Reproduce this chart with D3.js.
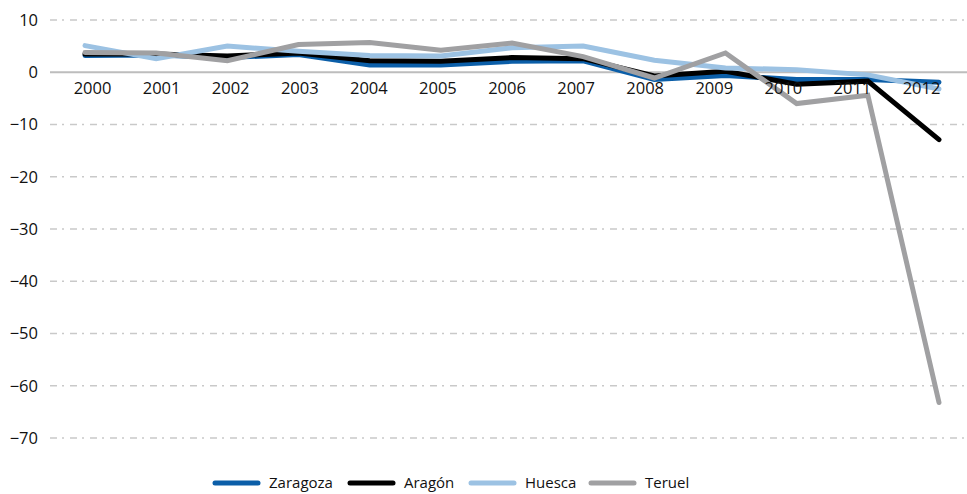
<!DOCTYPE html>
<html>
<head>
<meta charset="utf-8">
<script src="https://cdn.jsdelivr.net/npm/d3@7"></script>
<style>
  body { margin: 0; background: #fff; }
  text { font-family: "Open Sans", sans-serif; fill: #111; }
</style>
</head>
<body>
<svg id="chart" width="967" height="494"></svg>
<script>
var years = ['2000', '2001', '2002', '2003', '2004', '2005', '2006',
             '2007', '2008', '2009', '2010', '2011', '2012'];
var yTicks = [10, 0, -10, -20, -30, -40, -50, -60, -70];

var zaragoza = [3.2, 3.3, 2.8, 3.4, 1.4, 1.4, 2.1, 2.2, -1.4, -0.6, -1.4, -1.4, -1.9];
var aragon   = [3.5, 3.5, 3.1, 3.7, 2.2, 2.1, 2.8, 2.6, -0.7, 0.2, -2.3, -1.7, -12.9];
var huesca   = [5.1, 2.6, 5.0, 4.0, 3.2, 3.1, 4.7, 5.0, 2.3, 0.8, 0.5, -0.5, -3.2];
var teruel   = [3.8, 3.7, 2.2, 5.3, 5.7, 4.2, 5.6, 3.0, -1.1, 3.7, -6.0, -4.4, -63.2];

var series = [
  { name: 'Zaragoza', values: zaragoza, color: '#0b5ea8' },
  { name: 'Aragón', values: aragon, color: '#000000' },
  { name: 'Huesca', values: huesca, color: '#9cc2e3' },
  { name: 'Teruel', values: teruel, color: '#a0a0a2' }
];

var svg = d3.select('#chart');

var yScale = d3.scaleLinear()
    .domain([-70, 10])
    .range([438, 20]);

// lines and category labels do not sit on the same points
var xLine = d3.scalePoint()
    .domain(years)
    .range([85, 939]);

var xLabel = d3.scalePoint()
    .domain(years)
    .range([92, 921]);

// grid
svg.append('g')
  .selectAll('line')
  .data(yTicks)
  .enter()
  .append('line')
    .attr('x1', 50)
    .attr('x2', 967)
    .attr('y1', d => yScale(d))
    .attr('y2', d => yScale(d))
    .attr('stroke', d => d === 0 ? '#bdbdbd' : '#c9c9c9')
    .attr('stroke-width', d => d === 0 ? 2 : 1.5)
    .attr('stroke-dasharray', d => d === 0 ? null : '7,5,2,6');

// y axis labels
var yAxis = d3.axisLeft(yScale)
    .tickValues(yTicks)
    .tickSize(0)
    .tickPadding(0);

svg.append('g')
    .attr('transform', 'translate(38,0)')
    .call(yAxis)
    .call(g => g.select('.domain').remove())
    .selectAll('text')
    .style('font-size', '16.5px')
    .style('font-family', '"Open Sans", sans-serif')
    .attr('fill', '#111');

// lines
var line = d3.line()
    .x((d, i) => xLine(years[i]))
    .y(d => yScale(d));

svg.append('g')
  .selectAll('path')
  .data(series)
  .enter()
  .append('path')
    .attr('d', d => line(d.values))
    .attr('fill', 'none')
    .attr('stroke', d => d.color)
    .attr('stroke-width', 5)
    .attr('stroke-linejoin', 'miter')
    .attr('stroke-linecap', 'round');

// category labels, drawn over the lines
var xAxis = d3.axisBottom(xLabel)
    .tickSize(0)
    .tickPadding(0);

svg.append('g')
    .attr('transform', 'translate(0,82)')
    .call(xAxis)
    .call(g => g.select('.domain').remove())
    .selectAll('text')
    .style('font-size', '16.5px')
    .style('font-family', '"Open Sans", sans-serif')
    .attr('fill', '#111');

// legend
var legendX = [213, 348, 469, 589];
var legend = svg.append('g')
  .selectAll('g')
  .data(series)
  .enter()
  .append('g')
    .attr('transform', (d, i) => 'translate(' + legendX[i] + ',483)');

legend.append('line')
    .attr('x1', 2)
    .attr('x2', 45)
    .attr('stroke', d => d.color)
    .attr('stroke-width', 5)
    .attr('stroke-linecap', 'round');

legend.append('text')
    .attr('x', 56)
    .attr('dy', '0.35em')
    .style('font-size', '15px')
    .text(d => d.name);
</script>
</body>
</html>
